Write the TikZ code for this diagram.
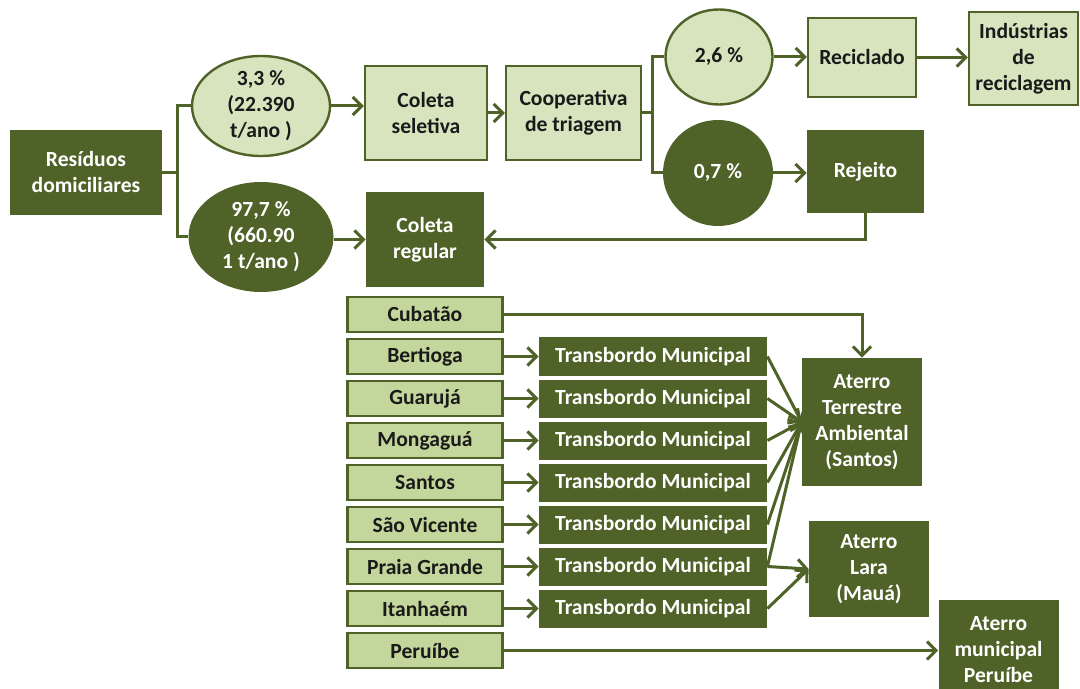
\documentclass[tikz,border=0pt]{standalone}
\usepackage{fontspec}
\setmainfont{Carlito}
\usetikzlibrary{arrows.meta,shapes.geometric}
\definecolor{dk}{HTML}{4F6228}
\definecolor{lt}{HTML}{D7E4BD}
\definecolor{ct}{HTML}{C3D69B}
\definecolor{tx}{HTML}{1A1A1A}
\begin{document}
\begin{tikzpicture}[x=0.5pt,y=-0.5pt,
  base/.style={font=\fontsize{10.8}{13}\selectfont\bfseries, align=center, inner sep=0pt},
  darkbox/.style={base, rectangle, fill=dk, text=white},
  lightbox/.style={base, rectangle, fill=lt, draw=dk, line width=1.2pt, text=tx},
  citybox/.style={lightbox, fill=ct},
  lightell/.style={base, ellipse, fill=lt, draw=dk, line width=1.2pt, text=tx},
  darkell/.style={base, ellipse, fill=dk, text=white},
  conn/.style={draw=dk, line width=1.5pt},
  arr/.style={conn, -{Straight Barb[length=4.5pt,width=9pt]}}]
\clip (0,0) rectangle (1080,689);
\fill[white] (0,0) rectangle (1080,689);

% upper part
\node[darkbox, minimum width=76pt, minimum height=42.5pt] (res) at (86,172.5) {Resíduos\\domiciliares};
\node[lightell, minimum width=69pt, minimum height=50pt] (e1) at (261,106) {3,3 \%\\(22.390\\t/ano )};
\node[darkell, minimum width=72.5pt, minimum height=55pt] (e2) at (261,237) {97,7 \%\\(660.90\\1 t/ano )};
\node[lightbox, minimum width=61pt, minimum height=47pt] (cs) at (426,113) {Coleta\\seletiva};
\node[darkbox, minimum width=59pt, minimum height=47.5pt] (cr) at (425,239.5) {Coleta\\regular};
\node[lightbox, minimum width=67.5pt, minimum height=47pt] (coop) at (573.5,113) {Cooperativa\\de triagem};
\node[lightell, minimum width=53.5pt, minimum height=47.5pt] (c1) at (719,57) {2,6 \%};
\node[darkell, minimum width=55pt, minimum height=53pt] (c2) at (718,173) {0,7 \%};
\node[lightbox, minimum width=54pt, minimum height=39.5pt] (rec) at (862,57.5) {Reciclado};
\node[lightbox, minimum width=54.5pt, minimum height=46.5pt] (ind) at (1023.5,58.5) {Indústrias\\de\\reciclagem};
\node[darkbox, minimum width=58.5pt, minimum height=41.5pt] (rej) at (865.5,171.5) {Rejeito};

\draw[conn] (res.east) -- (177,172.5) coordinate (rb);
\draw[conn] (rb) |- (e1.west);
\draw[conn] (rb) |- (e2.west);
\draw[arr] (e1.east) -- (e1.east -| cs.west);
\draw[arr] (e2.east |- cr.west) -- (cr.west);
\draw[arr] (cs.east) -- (coop.west);
\draw[conn] (coop.east) -- (652,113) coordinate (cb);
\draw[conn] (cb) |- (c1.west);
\draw[conn] (cb) |- (c2.west);
\draw[arr] (c1.east) -- (c1.east -| rec.west);
\draw[arr] (rec.east) -- (rec.east -| ind.west);
\draw[arr] (c2.east) -- (c2.east -| rej.west);
\draw[arr] (rej.south) |- (cr.east);

% lower part
\node[darkbox, minimum width=60pt, minimum height=64pt] (ats) at (862,422) {Aterro\\Terrestre\\Ambiental\\(Santos)};
\node[darkbox, minimum width=60pt, minimum height=48pt] (atl) at (869,569) {Aterro\\Lara\\(Mauá)};
\node[darkbox, minimum width=60pt, minimum height=50pt] (atm) at (998.5,650) {Aterro\\municipal\\Peruíbe};

\foreach \n/\t [count=\i from 0] in {cub/Cubatão, ber/Bertioga, gua/Guarujá, mon/Mongaguá, san/Santos, sv/São Vicente, pg/Praia Grande, ita/Itanhaém, per/Peruíbe}
  \node[citybox, minimum width=77.5pt, minimum height=17.5pt] (\n) at (425,314.5+42*\i) {\t};

\foreach \n [count=\i from 1] in {ber,gua,mon,san,sv,pg,ita}{
  \node[darkbox, minimum width=114pt, minimum height=19pt] (t\n) at (653,314.5+42*\i) {Transbordo Municipal};
  \draw[arr] (\n.east) -- (t\n.west);
}
\foreach \n in {ber,gua,mon,san,sv,pg}
  \draw[arr] (t\n.east) -- (ats.west);
\foreach \n in {pg,ita}
  \draw[arr] (t\n.east) -- (atl.west);
\draw[arr] (cub.east) -| (ats.north);
\draw[arr] (per.east) -- (per.east -| atm.west);
\end{tikzpicture}
\end{document}
